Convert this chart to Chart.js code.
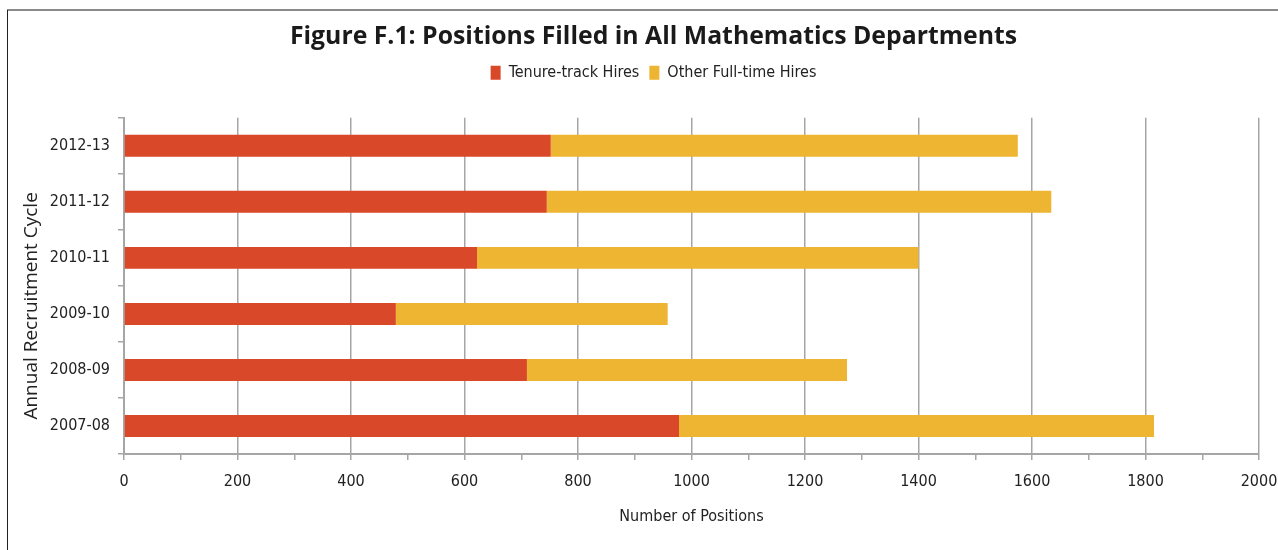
<!DOCTYPE html>
<html>
<head>
<meta charset="utf-8">
<script src="https://cdn.jsdelivr.net/npm/chart.js@4.4.1/dist/chart.umd.min.js"></script>
<style>
  html, body { margin: 0; padding: 0; background: #fff; }
  #wrap { position: relative; width: 1278px; height: 550px; overflow: hidden; }
  #frameTop { position: absolute; left: 7px; top: 9px; width: 1271px; height: 2px; background: #8a8a8a; }
  #frameLeft { position: absolute; left: 7px; top: 10px; width: 1px; height: 540px; background: #222; }
  canvas { position: absolute; left: 0; top: 0; }
</style>
</head>
<body>
<div id="wrap">
  <canvas id="c" width="1278" height="550"></canvas>
  <div id="frameTop"></div>
  <div id="frameLeft"></div>
</div>
<script>
const categories = ["2012-13", "2011-12", "2010-11", "2009-10", "2008-09", "2007-08"];
const tenureTrack = [752, 745, 622, 479, 710, 978];
const otherFullTime = [823, 889, 778, 479, 564, 837];
const seriesNames = ["Tenure-track Hires", "Other Full-time Hires"];
const xTickLabels = [0, 200, 400, 600, 800, 1000, 1200, 1400, 1600, 1800, 2000];
const chartTitle = "Figure F.1: Positions Filled in All Mathematics Departments";
const xTitle = "Number of Positions";
const yTitle = "Annual Recruitment Cycle";

const narrow = "'DejaVu Sans Condensed', 'Liberation Sans Narrow', 'Noto Sans', sans-serif";
const wide = "'Open Sans', 'Noto Sans', sans-serif";
const gridGray = '#A6A6A6';

const legendGap = {
  id: 'legendGap',
  beforeInit(chart) {
    const lg = chart.legend;
    if (!lg) return;
    const orig = lg.fit;
    lg.fit = function () { orig.call(this); this.height += 27; };
  }
};

const yAxisTitle = {
  id: 'yAxisTitle',
  afterDraw(chart) {
    const ctx = chart.ctx;
    const area = chart.chartArea;
    ctx.save();
    ctx.translate(32, area.top + (area.bottom - area.top) / 2 + 20);
    ctx.rotate(-Math.PI / 2);
    ctx.font = "19px " + wide;
    ctx.fillStyle = '#222';
    ctx.textAlign = 'center';
    ctx.textBaseline = 'middle';
    ctx.fillText(yTitle, 0, 0);
    ctx.restore();
  }
};

new Chart(document.getElementById('c'), {
  type: 'bar',
  data: {
    labels: categories,
    datasets: [
      { label: seriesNames[0], data: tenureTrack, backgroundColor: '#D94829', borderWidth: 0, barPercentage: 0.98, categoryPercentage: 0.4 },
      { label: seriesNames[1], data: otherFullTime, backgroundColor: '#EDB532', borderWidth: 0, barPercentage: 0.98, categoryPercentage: 0.4 }
    ]
  },
  plugins: [legendGap, yAxisTitle],
  options: {
    indexAxis: 'y',
    responsive: false,
    animation: false,
    layout: { padding: { left: 48, right: 19, top: 0, bottom: 0 } },
    plugins: {
      title: {
        display: true,
        text: chartTitle,
        color: '#1a1a1a',
        font: { family: wide, size: 24.8, weight: 'bold' },
        padding: { top: 22, bottom: 3 }
      },
      legend: {
        display: true,
        position: 'top',
        labels: {
          color: '#222',
          font: { family: narrow, size: 16 },
          boxWidth: 10,
          boxHeight: 14,
          padding: 10
        }
      },
      tooltip: { enabled: false }
    },
    scales: {
      x: {
        stacked: true,
        min: 0,
        max: 2000,
        ticks: {
          stepSize: 100,
          autoSkip: false,
          maxRotation: 0,
          color: '#222',
          font: { family: narrow, size: 16 },
          padding: 12,
          callback: (v) => xTickLabels.includes(v) ? String(v) : ''
        },
        grid: {
          color: (ctx) => (ctx.tick && ctx.tick.value % 200 === 0) ? gridGray : 'rgba(0,0,0,0)',
          tickColor: gridGray,
          tickLength: 6,
          lineWidth: 1.5
        },
        border: { display: true, color: gridGray, width: 2 },
        title: {
          display: true,
          text: xTitle,
          color: '#222',
          font: { family: narrow, size: 16 },
          padding: { top: 4, bottom: 24 }
        },
        afterFit: (s) => { s.height = 96; s.paddingRight = 0; s.paddingLeft = 0; }
      },
      y: {
        stacked: true,
        offset: true,
        ticks: {
          color: '#222',
          font: { family: narrow, size: 16 },
          padding: 8
        },
        grid: {
          offset: true,
          drawOnChartArea: false,
          drawTicks: true,
          tickLength: 6,
          tickColor: gridGray,
          lineWidth: 1.5
        },
        border: { display: true, color: gridGray, width: 2 },
        title: { display: false },
        afterFit: (s) => { s.width = 76; }
      }
    }
  }
});
</script>
</body>
</html>
